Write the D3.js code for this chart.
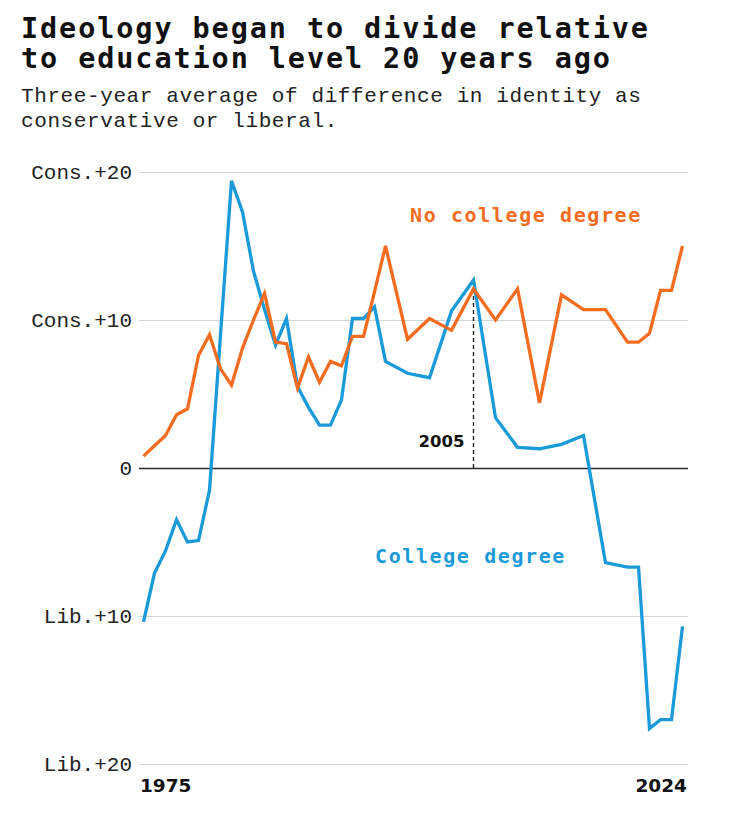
<!DOCTYPE html>
<html>
<head>
<meta charset="utf-8">
<script src="https://cdn.jsdelivr.net/npm/d3@7"></script>
<style>
  body { margin: 0; background: #fff; }
  .title { font-family: 'DejaVu Sans Mono', monospace; font-weight: bold; font-size: 28.5px; letter-spacing: 1.9px; fill: #111; }
  .subtitle { font-family: 'Liberation Mono', monospace; font-size: 21px; letter-spacing: 0.6px; fill: #222; }
  .axis text { font-family: 'Liberation Mono', monospace; font-size: 21px; fill: #222; }
  .axis .tick line { stroke: #d4d4d4; stroke-width: 1.2; }
  .axis .domain { display: none; }
  .series-label { font-family: 'DejaVu Sans Mono', monospace; font-weight: bold; font-size: 20px; letter-spacing: 1.6px; }
  .year-label { font-family: 'DejaVu Sans', sans-serif; font-weight: bold; font-size: 18.5px; fill: #111; }
</style>
</head>
<body>
<div id="chart"></div>
<script>
const width = 733;
const height = 819;

const years = [1975, 1976, 1977, 1978, 1979, 1980, 1981, 1982, 1983, 1984, 1985, 1986, 1987,
  1988, 1989, 1990, 1991, 1992, 1993, 1994, 1995, 1996, 1997, 1999, 2001, 2003, 2005, 2007,
  2009, 2011, 2013, 2015, 2017, 2019, 2020, 2021, 2022, 2023, 2024];

const collegeValues = [-10.4, -7.1, -5.6, -3.5, -5.0, -4.9, -1.5, 9.0, 19.4, 17.3, 13.3, 10.7, 8.3,
  10.1, 5.5, 4.1, 2.9, 2.9, 4.6, 10.1, 10.1, 10.9, 7.2, 6.4, 6.1, 10.6, 12.7, 3.4,
  1.4, 1.3, 1.6, 2.2, -6.4, -6.7, -6.7, -17.6, -17.0, -17.0, -10.7];

const noCollegeValues = [0.8, 1.5, 2.2, 3.6, 4.0, 7.6, 9.0, 6.7, 5.6, 8.1, 10.0, 11.8, 8.5,
  8.4, 5.4, 7.5, 5.8, 7.2, 6.9, 8.9, 8.9, 11.9, 15.0, 8.7, 10.1, 9.3, 12.1, 10.0,
  12.1, 4.4, 11.7, 10.7, 10.7, 8.5, 8.5, 9.1, 12.0, 12.0, 15.0];

const tickValues = [20, 10, 0, -10, -20];
const tickLabels = ['Cons.+20', 'Cons.+10', '0', 'Lib.+10', 'Lib.+20'];

const markerYear = 2005;

const titleLines = ['Ideology began to divide relative', 'to education level 20 years ago'];
const subtitleLines = ['Three-year average of difference in identity as', 'conservative or liberal.'];

const collegeColor = '#1a9ad8';
const noCollegeColor = '#f36c1f';

const gridLeft = 139;
const gridRight = 688;

const svg = d3.select('#chart')
  .append('svg')
  .attr('width', width)
  .attr('height', height);

svg.selectAll('.title')
  .data(titleLines)
  .enter()
  .append('text')
  .attr('class', 'title')
  .attr('x', 21)
  .attr('y', (d, i) => 38 + i * 30)
  .text(d => d);

svg.selectAll('.subtitle')
  .data(subtitleLines)
  .enter()
  .append('text')
  .attr('class', 'subtitle')
  .attr('x', 21)
  .attr('y', (d, i) => 102 + i * 25)
  .text(d => d);

const x = d3.scaleLinear().domain([1975, 2024]).range([143.5, 682.5]);
const y = d3.scaleLinear().domain([-20, 20]).range([764, 172]);

const yAxis = d3.axisLeft(y)
  .tickValues(tickValues)
  .tickFormat((d, i) => tickLabels[i])
  .tickSize(-(gridRight - gridLeft))
  .tickPadding(7);

const axisG = svg.append('g')
  .attr('class', 'axis')
  .attr('transform', `translate(${gridLeft}, 0)`)
  .call(yAxis);

// zero line is darker than the rest of the grid
axisG.selectAll('.tick')
  .filter(d => d === 0)
  .select('line')
  .style('stroke', '#2a2a2a')
  .style('stroke-width', 1.4);

const noCollegeSeries = years.map((yr, i) => ({ year: yr, value: noCollegeValues[i] }));
const collegeSeries = years.map((yr, i) => ({ year: yr, value: collegeValues[i] }));

const line = d3.line()
  .x(d => x(d.year))
  .y(d => y(d.value));

// dashed marker at 2005, from zero up to the no-degree line
const markerValue = noCollegeValues[years.indexOf(markerYear)];
svg.append('line')
  .attr('x1', x(markerYear))
  .attr('x2', x(markerYear))
  .attr('y1', y(0))
  .attr('y2', y(markerValue))
  .attr('stroke', '#222')
  .attr('stroke-width', 1.4)
  .attr('stroke-dasharray', '4,3');

svg.append('text')
  .attr('class', 'year-label')
  .attr('x', x(markerYear) - 9)
  .attr('y', 447)
  .style('text-anchor', 'end')
  .style('font-size', '16.5px')
  .text(markerYear);

svg.append('path')
  .datum(collegeSeries)
  .attr('fill', 'none')
  .attr('stroke', collegeColor)
  .attr('stroke-width', 3.3)
  .attr('stroke-linejoin', 'miter')
  .attr('d', line);

svg.append('path')
  .datum(noCollegeSeries)
  .attr('fill', 'none')
  .attr('stroke', noCollegeColor)
  .attr('stroke-width', 3.3)
  .attr('stroke-linejoin', 'miter')
  .attr('d', line);

svg.append('text')
  .attr('class', 'series-label')
  .attr('x', 410)
  .attr('y', 222)
  .attr('fill', noCollegeColor)
  .text('No college degree');

svg.append('text')
  .attr('class', 'series-label')
  .attr('x', 375)
  .attr('y', 563)
  .attr('fill', collegeColor)
  .text('College degree');

svg.append('text')
  .attr('class', 'year-label')
  .attr('x', gridLeft + 1)
  .attr('y', 792)
  .text(years[0]);

svg.append('text')
  .attr('class', 'year-label')
  .attr('x', gridRight - 1)
  .attr('y', 792)
  .style('text-anchor', 'end')
  .text(years[years.length - 1]);
</script>
</body>
</html>
